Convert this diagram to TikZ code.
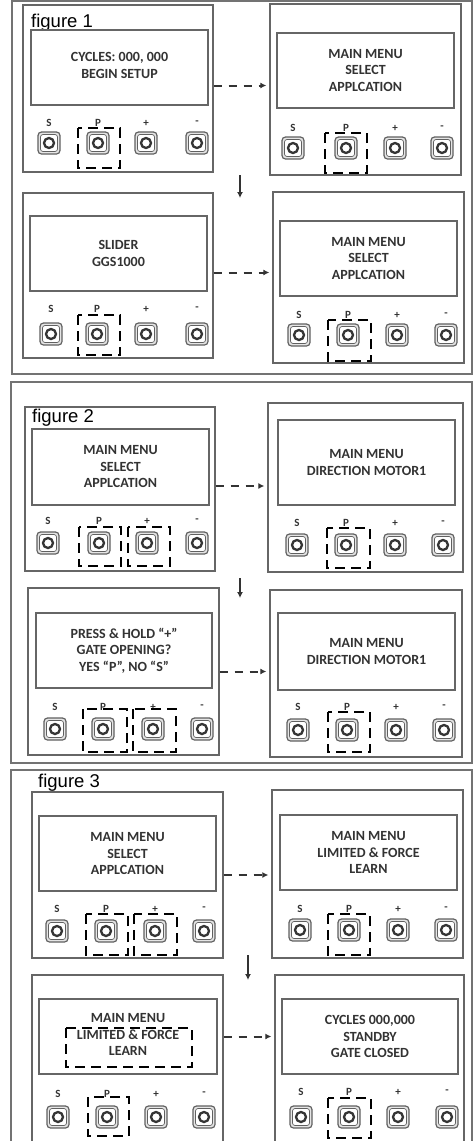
\documentclass[tikz,border=0pt]{standalone}
\usepackage{fontspec}
\setmainfont{Carlito}
\newfontfamily\figfont{Liberation Sans}
\usetikzlibrary{arrows.meta,fit}
\definecolor{linegray}{HTML}{666666}
\definecolor{framegray}{HTML}{737373}
\definecolor{txtgray}{HTML}{333333}
\definecolor{btngray}{HTML}{606060}
\definecolor{btndark}{HTML}{353535}
\tikzset{
  frame/.style={draw=framegray,line width=1.5pt,inner sep=0pt},
  panel/.style={draw=linegray,line width=1.3pt,inner sep=0pt},
  screen/.style={draw=linegray,line width=1.2pt,inner sep=0pt},
  scr/.style={font=\bfseries\fontsize{14}{16.5}\selectfont,text=txtgray,align=center,inner sep=0pt},
  lbl/.style={font=\bfseries\fontsize{11}{11}\selectfont,text=txtgray,inner sep=0pt},
  figlbl/.style={font=\figfont\fontsize{18.5}{20}\selectfont,text=black,anchor=base west,inner sep=0pt},
  hl/.style={draw=black,line width=2.8pt,dash pattern=on 10pt off 6pt},
  darr/.style={draw=txtgray,line width=2pt,dash pattern=on 8pt off 7pt,-{Latex[length=6pt,width=6pt]},shorten >=3pt},
  sarr/.style={draw=txtgray,line width=2pt,-{Latex[length=6pt,width=6pt]}},
  btn/.pic={
    \draw[line width=1.2pt,draw=btngray,fill=gray!20,rounded corners=3.5pt] (-11,-11) rectangle (11,11);
    \draw[line width=0.7pt,draw=btngray,fill=white,rounded corners=2.5pt] (-8.5,-8.5) rectangle (8.5,8.5);
    \draw[line width=2.3pt,draw=btndark,fill=white] (0,0) circle (5pt);
  }
}
\newcommand\btnrow[6]{%
  \foreach \bx/\bl in {#1/S,#2/P,#3/+,#4/-}{%
    \pic at (\bx,#5) {btn};
    \node[lbl] at (\bx,#6) {\bl};
  }%
}
\begin{document}
\begin{tikzpicture}[x=1pt,y=-1pt]
\clip (0,0) rectangle (474,1141);
\fill[white] (0,0) rectangle (474,1141);

% ================= figure 1 =================
\node[frame,fit={(12,1) (472,374)}] (fr1) {};
% top-left
\node[panel,fit={(23,5) (213,172)}] (f1tl) {};
\node[figlbl] (f1lab) at (31,27) {figure 1};
\node[screen,fit={(31,30) (208,105)}] (f1tls) {};
\node[scr] (f1tlt) at ([yshift=2pt]f1tls.center) {CYCLES: 000, 000\\BEGIN SETUP};
\btnrow{49}{98}{146}{197}{143}{123}
\draw[hl] (78,128) rectangle (120,168);
% top-right
\node[panel,fit={(270,4) (461,175)}] (f1tr) {};
\node[screen,fit={(277,33) (454,108)}] (f1trs) {};
\node[scr] (f1trt) at (f1trs.center) {MAIN MENU\\SELECT\\APPLCATION};
\btnrow{293}{346}{395}{442}{148}{128}
\draw[hl] (325,133) rectangle (367,173);
% bottom-left
\node[panel,fit={(23,193) (213,358)}] (f1bl) {};
\node[screen,fit={(30,216) (207,291)}] (f1bls) {};
\node[scr] (f1blt) at (f1bls.center) {SLIDER\\GGS1000};
\btnrow{51}{97}{146}{197}{334}{309}
\draw[hl] (78,315) rectangle (120,355);
% bottom-right
\node[panel,fit={(273,192) (464,363)}] (f1br) {};
\node[screen,fit={(280,221) (457,296)}] (f1brs) {};
\node[scr] (f1brt) at (f1brs.center) {MAIN MENU\\SELECT\\APPLCATION};
\btnrow{299}{348}{397}{446}{335}{315}
\draw[hl] (328,320) rectangle (371,361);
% arrows
\draw[darr] ([yshift=3pt]f1tl.east) -- ([yshift=3pt]f1tr.west |- f1tl.east);
\draw[darr] ([yshift=3pt]f1bl.east) -- ([yshift=3pt]f1br.west |- f1bl.east);
\coordinate (d1a) at (240,175);
\coordinate (d1b) at (240,198);
\draw[sarr] (d1a) -- (d1b);

% ================= figure 2 =================
\node[frame,fit={(11,382) (472,763)}] (fr2) {};
% top-left
\node[panel,fit={(25,407) (215,571)}] (f2tl) {};
\node[figlbl] (f2lab) at (32,422) {figure 2};
\node[screen,fit={(32,429) (209,505)}] (f2tls) {};
\node[scr] (f2tlt) at (f2tls.center) {MAIN MENU\\SELECT\\APPLCATION};
\btnrow{48}{99}{147}{197}{543}{521}
\draw[hl] (79,527) rectangle (121,566);
\draw[hl] (128,527) rectangle (170,566);
% top-right
\node[panel,fit={(268,403) (463,572)}] (f2tr) {};
\node[screen,fit={(278,420) (455,505)}] (f2trs) {};
\node[scr] (f2trt) at (f2trs.center) {MAIN MENU\\DIRECTION MOTOR1};
\btnrow{297}{346}{395}{443}{545}{523}
\draw[hl] (327,528) rectangle (370,568);
% bottom-left
\node[panel,fit={(28,588) (219,755)}] (f2bl) {};
\node[screen,fit={(36,613) (212,688)}] (f2bls) {};
\node[scr] (f2blt) at (f2bls.center) {PRESS \& HOLD “+”\\GATE OPENING?\\YES “P”, NO “S”};
\btnrow{55}{103}{153}{202}{729}{707}
\draw[hl] (83,709) rectangle (127,752);
\draw[hl] (133,709) rectangle (176,752);
% bottom-right
\node[panel,fit={(270,590) (462,757)}] (f2br) {};
\node[screen,fit={(278,613) (455,690)}] (f2brs) {};
\node[scr] (f2brt) at (f2brs.center) {MAIN MENU\\DIRECTION MOTOR1};
\btnrow{298}{347}{396}{444}{730}{707}
\draw[hl] (328,712) rectangle (370,752);
% arrows
\draw[darr] ([yshift=3pt]f2tl.east) -- ([yshift=3pt]f2tr.west |- f2tl.east);
\draw[darr] (f2bl.east) -- (f2br.west |- f2bl.east);
\coordinate (d2a) at (240,578);
\coordinate (d2b) at (240,598);
\draw[sarr] (d2a) -- (d2b);

% ================= figure 3 =================
\node[frame,fit={(11,770) (472,1150)}] (fr3) {};
\node[figlbl] (f3lab) at (38,787) {figure 3};
% top-left
\node[panel,fit={(32,792) (223,958)}] (f3tl) {};
\node[screen,fit={(39,816) (216,891)}] (f3tls) {};
\node[scr] (f3tlt) at (f3tls.center) {MAIN MENU\\SELECT\\APPLCATION};
\btnrow{57}{106}{155}{204}{931}{909}
\draw[hl] (86,914) rectangle (128,955);
\draw[hl] (134,914) rectangle (177,955);
% top-right
\node[panel,fit={(272,790) (463,958)}] (f3tr) {};
\node[screen,fit={(280,815) (457,890)}] (f3trs) {};
\node[scr] (f3trt) at (f3trs.center) {MAIN MENU\\LIMITED \& FORCE\\LEARN};
\btnrow{300}{349}{398}{446}{930}{909}
\draw[hl] (328,914) rectangle (370,955);
% bottom-left
\node[panel,fit={(32,975) (223,1150)}] (f3bl) {};
\node[screen,fit={(39,999) (217,1074)}] (f3bls) {};
\node[scr] (f3blt) at ([yshift=2pt]f3bls.center) {MAIN MENU\\LIMITED \& FORCE\\LEARN};
\draw[hl] (66,1028) rectangle (192,1067);
\btnrow{58}{107}{156}{204}{1117}{1094}
\draw[hl] (88,1097) rectangle (129,1136);
% bottom-right
\node[panel,fit={(275,975) (464,1150)}] (f3br) {};
\node[screen,fit={(282,999) (458,1074)}] (f3brs) {};
\node[scr] (f3brt) at (f3brs.center) {CYCLES 000,000\\STANDBY\\GATE CLOSED};
\btnrow{301}{349}{398}{447}{1117}{1092}
\draw[hl] (328,1098) rectangle (371,1138);
% arrows
\draw[darr] (f3tl.east) -- (f3tr.west |- f3tl.east);
\draw[darr] (f3bls.east -| f3bl.east) -- (f3br.west |- f3bls.east);
\coordinate (d3a) at (248,955);
\coordinate (d3b) at (248,980);
\draw[sarr] (d3a) -- (d3b);
\end{tikzpicture}
\end{document}
